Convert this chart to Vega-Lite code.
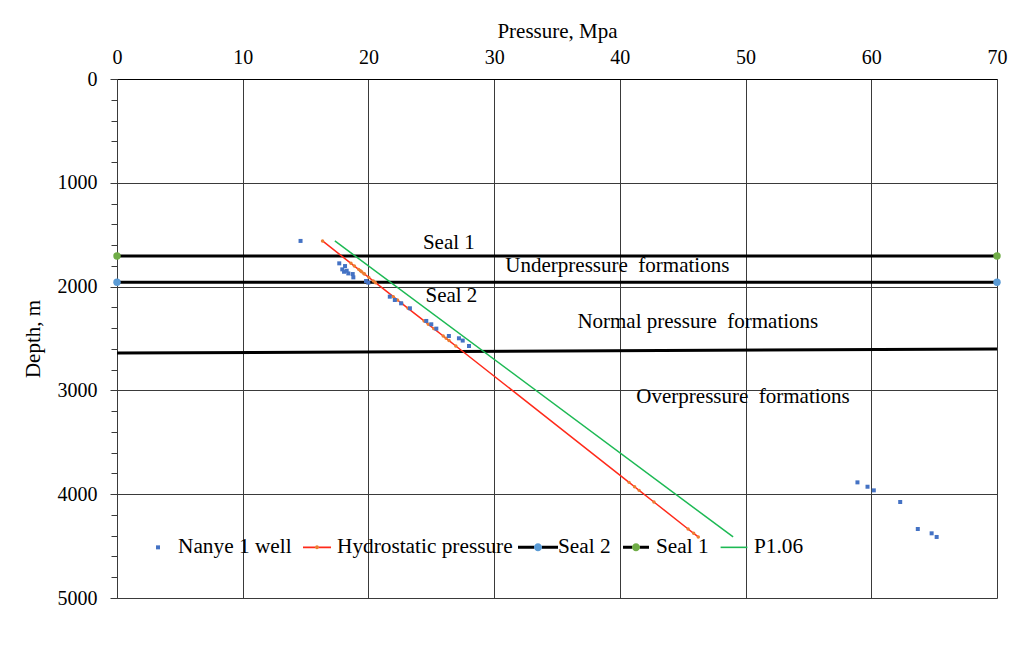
{
  "$schema": "https://vega.github.io/schema/vega-lite/v6.json",
  "width": 880,
  "height": 519,
  "autosize": {"type": "none"},
  "padding": {"left": 117, "top": 79, "right": 19, "bottom": 68},
  "background": "white",
  "config": {
    "font": "Liberation Serif",
    "view": {"stroke": null},
    "axis": {
      "labelFont": "Liberation Serif",
      "titleFont": "Liberation Serif",
      "labelFontSize": 20,
      "titleFontSize": 21,
      "titleFontWeight": "normal",
      "labelColor": "black",
      "titleColor": "black",
      "labelFlush": false,
      "gridColor": "#3a3a3a",
      "gridOpacity": 1,
      "gridWidth": 1,
      "domainColor": "#3a3a3a",
      "tickColor": "#3a3a3a"
    }
  },
  "datasets": {
    "well": [
      {"series": "Nanye 1 well", "p": 14.6, "d": 1560},
      {"series": "Nanye 1 well", "p": 17.68, "d": 1776},
      {"series": "Nanye 1 well", "p": 18.14, "d": 1802},
      {"series": "Nanye 1 well", "p": 17.92, "d": 1834},
      {"series": "Nanye 1 well", "p": 18.27, "d": 1847},
      {"series": "Nanye 1 well", "p": 18.06, "d": 1857},
      {"series": "Nanye 1 well", "p": 18.4, "d": 1873},
      {"series": "Nanye 1 well", "p": 18.75, "d": 1879},
      {"series": "Nanye 1 well", "p": 18.8, "d": 1911},
      {"series": "Nanye 1 well", "p": 19.81, "d": 1946},
      {"series": "Nanye 1 well", "p": 19.99, "d": 1962},
      {"series": "Nanye 1 well", "p": 21.7, "d": 2097},
      {"series": "Nanye 1 well", "p": 22.1, "d": 2129},
      {"series": "Nanye 1 well", "p": 22.6, "d": 2161},
      {"series": "Nanye 1 well", "p": 23.3, "d": 2209},
      {"series": "Nanye 1 well", "p": 24.6, "d": 2331},
      {"series": "Nanye 1 well", "p": 25.0, "d": 2363},
      {"series": "Nanye 1 well", "p": 25.4, "d": 2405},
      {"series": "Nanye 1 well", "p": 26.4, "d": 2476},
      {"series": "Nanye 1 well", "p": 27.2, "d": 2498},
      {"series": "Nanye 1 well", "p": 27.5, "d": 2520},
      {"series": "Nanye 1 well", "p": 28.0, "d": 2572},
      {"series": "Nanye 1 well", "p": 58.9, "d": 3886},
      {"series": "Nanye 1 well", "p": 59.7, "d": 3928},
      {"series": "Nanye 1 well", "p": 60.2, "d": 3963},
      {"series": "Nanye 1 well", "p": 62.3, "d": 4075},
      {"series": "Nanye 1 well", "p": 63.7, "d": 4335},
      {"series": "Nanye 1 well", "p": 64.8, "d": 4377},
      {"series": "Nanye 1 well", "p": 65.2, "d": 4412}
    ],
    "hydro": [
      {"p": 16.35, "d": 1560}, {"p": 18.61, "d": 1776}, {"p": 18.88, "d": 1802},
      {"p": 19.22, "d": 1834}, {"p": 19.36, "d": 1847}, {"p": 19.46, "d": 1857},
      {"p": 19.63, "d": 1873}, {"p": 19.69, "d": 1879}, {"p": 20.03, "d": 1911},
      {"p": 20.39, "d": 1946}, {"p": 20.56, "d": 1962}, {"p": 21.98, "d": 2097},
      {"p": 22.31, "d": 2129}, {"p": 22.65, "d": 2161}, {"p": 23.15, "d": 2209},
      {"p": 24.43, "d": 2331}, {"p": 24.76, "d": 2363}, {"p": 25.2, "d": 2405},
      {"p": 25.95, "d": 2476}, {"p": 26.18, "d": 2498}, {"p": 26.41, "d": 2520},
      {"p": 26.95, "d": 2572}, {"p": 40.73, "d": 3886}, {"p": 41.17, "d": 3928},
      {"p": 41.53, "d": 3963}, {"p": 42.71, "d": 4075}, {"p": 45.43, "d": 4335},
      {"p": 45.87, "d": 4377}, {"p": 46.24, "d": 4412}
    ],
    "p106": [
      {"p": 17.33, "d": 1560},
      {"p": 49.01, "d": 4412}
    ],
    "seal1": [
      {"p": 0, "d": 1705},
      {"p": 70, "d": 1705}
    ],
    "seal2": [
      {"p": 0, "d": 1958},
      {"p": 70, "d": 1958}
    ],
    "boundary": [
      {"p": 0, "d": 2640},
      {"p": 70, "d": 2601}
    ],
    "notes": [
      {"text": "Seal 1", "p": 26.4, "d": 1580},
      {"text": "Underpressure\u00a0 formations", "p": 39.8, "d": 1801},
      {"text": "Seal 2", "p": 26.6, "d": 2090},
      {"text": "Normal pressure\u00a0 formations", "p": 46.2, "d": 2341},
      {"text": "Overpressure\u00a0 formations", "p": 49.8, "d": 3063}
    ]
  },
  "resolve": {"axis": {"y": "independent"}},
  "layer": [
    {
      "data": {"name": "seal1"},
      "mark": {"type": "line", "color": "black", "strokeWidth": 3},
      "encoding": {
        "x": {"field": "p", "type": "quantitative", "scale": {"domain": [0, 70], "nice": false, "zero": false},
          "axis": {"orient": "top", "title": "Pressure, Mpa", "values": [0, 10, 20, 30, 40, 50, 60, 70], "grid": true, "ticks": false, "labelPadding": 12, "titlePadding": 6, "domain": true, "domainColor": "black"}},
        "y": {"field": "d", "type": "quantitative", "scale": {"domain": [0, 5000], "reverse": true, "nice": false, "zero": false},
          "axis": {"orient": "left", "title": "Depth, m", "values": [0, 1000, 2000, 3000, 4000, 5000], "grid": true, "tickSize": 7, "labelPadding": 13, "titlePadding": 14, "format": "d"}}
      }
    },
    {
      "data": {"name": "seal2"},
      "mark": {"type": "line", "color": "black", "strokeWidth": 3},
      "encoding": {
        "x": {"field": "p", "type": "quantitative"},
        "y": {"field": "d", "type": "quantitative", "axis": null}
      }
    },
    {
      "data": {"name": "boundary"},
      "mark": {"type": "line", "color": "black", "strokeWidth": 3},
      "encoding": {
        "x": {"field": "p", "type": "quantitative"},
        "y": {"field": "d", "type": "quantitative",
          "axis": {"orient": "left", "title": null, "labels": false, "grid": false, "domain": false, "tickSize": 6,
            "values": [200, 400, 600, 800, 1200, 1400, 1600, 1800, 2200, 2400, 2600, 2800, 3200, 3400, 3600, 3800, 4200, 4400, 4600, 4800]}}
      }
    },
    {
      "data": {"name": "hydro"},
      "mark": {"type": "line", "color": "#FF2A1A", "strokeWidth": 1.5, "point": {"filled": true, "color": "#ED7D31", "size": 12}},
      "encoding": {
        "x": {"field": "p", "type": "quantitative"},
        "y": {"field": "d", "type": "quantitative", "axis": null}
      }
    },
    {
      "data": {"name": "p106"},
      "mark": {"type": "line", "color": "#1DB954", "strokeWidth": 1.5},
      "encoding": {
        "x": {"field": "p", "type": "quantitative"},
        "y": {"field": "d", "type": "quantitative", "axis": null}
      }
    },
    {
      "data": {"name": "well"},
      "mark": {"type": "point", "filled": true, "color": "#4472C4", "size": 1600, "opacity": 1, "strokeWidth": 0},
      "encoding": {
        "x": {"field": "p", "type": "quantitative"},
        "y": {"field": "d", "type": "quantitative", "axis": null},
        "shape": {
          "field": "series",
          "type": "nominal",
          "scale": {
            "domain": ["Nanye 1 well", "Hydrostatic pressure", "Seal 2", "Seal 1", "P1.06"],
            "range": [
              "M-0.1,-0.1H0.1V0.1H-0.1Z",
              "M-0.7,-0.04H0.7V0.04H-0.7ZM0.1,0A0.1,0.1 0 1 1 -0.1,0A0.1,0.1 0 1 1 0.1,0Z",
              "M-1,-0.075H1V0.075H-1ZM0.2,0A0.2,0.2 0 1 1 -0.2,0A0.2,0.2 0 1 1 0.2,0Z",
              "M-0.65,-0.075H0.65V0.075H-0.65ZM0.2,0A0.2,0.2 0 1 1 -0.2,0A0.2,0.2 0 1 1 0.2,0Z",
              "M-0.67,-0.04H0.67V0.04H-0.67Z"
            ]
          },
          "legend": {
            "title": null,
            "orient": "none",
            "legendX": 21,
            "legendY": 448,
            "direction": "horizontal",
            "columns": 5,
            "columnPadding": 5,
            "padding": 0,
            "symbolSize": 1600,
            "labelOffset": 0,
            "labelFont": "Liberation Serif",
            "labelFontSize": 21.3,
            "labelColor": "black",
            "labelLimit": 400,
            "encoding": {
              "symbols": {
                "size": {"value": 1600},
                "fill": {"value": {"expr": "datum.value === 'Hydrostatic pressure' ? {gradient: 'linear', x1: 0, y1: 0, x2: 1, y2: 0, stops: [{offset: 0, color: '#FF2A1A'}, {offset: 0.425, color: '#FF2A1A'}, {offset: 0.43, color: '#ED7D31'}, {offset: 0.57, color: '#ED7D31'}, {offset: 0.575, color: '#FF2A1A'}, {offset: 1, color: '#FF2A1A'}]} : datum.value === 'Seal 2' ? {gradient: 'linear', x1: 0, y1: 0, x2: 1, y2: 0, stops: [{offset: 0, color: 'black'}, {offset: 0.398, color: 'black'}, {offset: 0.402, color: '#5B9BD5'}, {offset: 0.598, color: '#5B9BD5'}, {offset: 0.602, color: 'black'}, {offset: 1, color: 'black'}]} : datum.value === 'Seal 1' ? {gradient: 'linear', x1: 0, y1: 0, x2: 1, y2: 0, stops: [{offset: 0, color: 'black'}, {offset: 0.344, color: 'black'}, {offset: 0.348, color: '#70AD47'}, {offset: 0.652, color: '#70AD47'}, {offset: 0.656, color: 'black'}, {offset: 1, color: 'black'}]} : datum.value === 'P1.06' ? '#1DB954' : '#4472C4'"}},
                "stroke": {"value": "transparent"},
                "strokeWidth": {"value": 0},
                "opacity": {"value": 1},
                "fillOpacity": {"value": 1}
              }
            }
          }
        }
      }
    },
    {
      "data": {"name": "seal2"},
      "mark": {"type": "circle", "color": "#5B9BD5", "size": 55, "opacity": 1},
      "encoding": {
        "x": {"field": "p", "type": "quantitative"},
        "y": {"field": "d", "type": "quantitative", "axis": null}
      }
    },
    {
      "data": {"name": "seal1"},
      "mark": {"type": "circle", "color": "#70AD47", "size": 55, "opacity": 1},
      "encoding": {
        "x": {"field": "p", "type": "quantitative"},
        "y": {"field": "d", "type": "quantitative", "axis": null}
      }
    },
    {
      "data": {"name": "notes"},
      "mark": {"type": "text", "font": "Liberation Serif", "fontSize": 21, "color": "black", "align": "center", "baseline": "middle"},
      "encoding": {
        "x": {"field": "p", "type": "quantitative"},
        "y": {"field": "d", "type": "quantitative", "axis": null},
        "text": {"field": "text"}
      }
    }
  ]
}
